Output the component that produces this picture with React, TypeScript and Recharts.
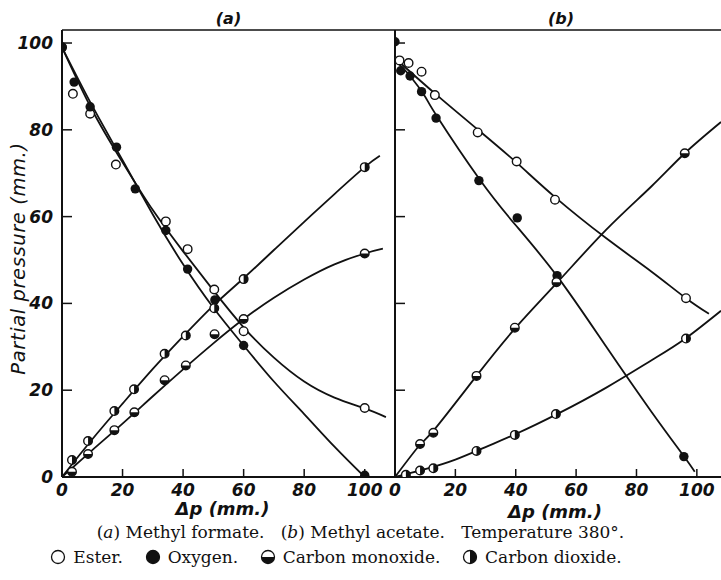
import React from 'react';
import { ComposedChart, Line, Scatter, XAxis, YAxis, ReferenceLine } from 'recharts';

type Pt = { x: number; y: number };

// ---- (a) Methyl formate: measured points ----
const esterA: Pt[] = [
    { x: 0, y: 99 }, { x: 3.6, y: 88.3 }, { x: 9.3, y: 83.7 }, { x: 17.8, y: 72 },
    { x: 34.3, y: 58.9 }, { x: 41.5, y: 52.5 }, { x: 50.3, y: 43.2 }, { x: 60, y: 33.6 },
    { x: 100, y: 15.9 },
];
const oxygenA: Pt[] = [
    { x: 0, y: 99 }, { x: 4, y: 91 }, { x: 9.3, y: 85.3 }, { x: 18, y: 76 },
    { x: 24.2, y: 66.4 }, { x: 34.3, y: 56.8 }, { x: 41.5, y: 47.9 }, { x: 50.5, y: 40.8 },
    { x: 60, y: 30.3 }, { x: 100, y: 0.4 },
];
const coA: Pt[] = [
    { x: 3.3, y: 1.2 }, { x: 8.6, y: 5.3 }, { x: 17.3, y: 10.8 }, { x: 23.9, y: 14.9 },
    { x: 33.9, y: 22.3 }, { x: 40.9, y: 25.7 }, { x: 50.4, y: 32.9 }, { x: 60, y: 36.4 },
    { x: 100, y: 51.5 },
];
const co2A: Pt[] = [
    { x: 3.3, y: 3.9 }, { x: 8.6, y: 8.3 }, { x: 17.3, y: 15.2 }, { x: 23.8, y: 20.2 },
    { x: 33.9, y: 28.4 }, { x: 40.9, y: 32.6 }, { x: 50.3, y: 38.9 }, { x: 60, y: 45.6 },
    { x: 100, y: 71.4 },
];

// ---- (a) drawn curves ----
const esterCurveA: Pt[] = [
    { x: 0, y: 99 }, { x: 10, y: 84.5 }, { x: 20, y: 72.5 }, { x: 30, y: 61.5 },
    { x: 40, y: 52 }, { x: 50, y: 43 }, { x: 60, y: 34.5 }, { x: 70, y: 27.5 },
    { x: 80, y: 22 }, { x: 90, y: 18.3 }, { x: 100, y: 15.8 }, { x: 107, y: 13.8 },
];
const oxygenCurveA: Pt[] = [
    { x: 0, y: 99 }, { x: 10, y: 85.5 }, { x: 20, y: 73 }, { x: 30, y: 60.5 },
    { x: 40, y: 49 }, { x: 50, y: 39 }, { x: 60, y: 30.3 }, { x: 70, y: 22 },
    { x: 80, y: 14.5 }, { x: 90, y: 7 }, { x: 100, y: 0 },
];
const coCurveA: Pt[] = [
    { x: 0, y: 0 }, { x: 10, y: 6.2 }, { x: 20, y: 12.3 }, { x: 30, y: 18.6 },
    { x: 40, y: 24.8 }, { x: 50, y: 30.8 }, { x: 60, y: 36.4 }, { x: 70, y: 41.3 },
    { x: 80, y: 45.5 }, { x: 90, y: 49 }, { x: 100, y: 51.5 }, { x: 106, y: 52.6 },
];
const co2CurveA: Pt[] = [
    { x: 0, y: 0 }, { x: 10, y: 8.7 }, { x: 20, y: 16.9 }, { x: 30, y: 24.9 },
    { x: 40, y: 32.4 }, { x: 50, y: 39.5 }, { x: 60, y: 45.8 }, { x: 70, y: 52.3 },
    { x: 80, y: 58.8 }, { x: 90, y: 65.2 }, { x: 100, y: 71.4 }, { x: 105, y: 74 },
];

// ---- (b) Methyl acetate: measured points ----
const esterB: Pt[] = [
    { x: 1.5, y: 96 }, { x: 4.5, y: 95.4 }, { x: 8.8, y: 93.4 }, { x: 13.2, y: 88 },
    { x: 27.4, y: 79.4 }, { x: 40.3, y: 72.7 }, { x: 53, y: 63.9 }, { x: 96.4, y: 41.2 },
];
const oxygenB: Pt[] = [
    { x: 0, y: 100.3 }, { x: 1.9, y: 93.6 }, { x: 5, y: 92.4 }, { x: 8.8, y: 88.8 },
    { x: 13.6, y: 82.7 }, { x: 27.8, y: 68.3 }, { x: 40.5, y: 59.7 }, { x: 53.7, y: 46.4 },
    { x: 95.7, y: 4.7 },
];
const coB: Pt[] = [
    { x: 8.3, y: 7.6 }, { x: 12.7, y: 10.2 }, { x: 27, y: 23.3 }, { x: 39.7, y: 34.4 },
    { x: 53.5, y: 44.9 }, { x: 96, y: 74.6 },
];
const co2B: Pt[] = [
    { x: 3.6, y: 0.5 }, { x: 8.3, y: 1.5 }, { x: 12.7, y: 2 }, { x: 27, y: 6 },
    { x: 39.7, y: 9.7 }, { x: 53.3, y: 14.5 }, { x: 96.4, y: 31.9 },
];

// ---- (b) drawn curves ----
const esterCurveB: Pt[] = [
    { x: 0, y: 96.5 }, { x: 13, y: 88.5 }, { x: 27, y: 80.3 }, { x: 40, y: 72.6 },
    { x: 53, y: 64.5 }, { x: 70, y: 55 }, { x: 85, y: 47.3 }, { x: 96.4, y: 41.2 },
    { x: 104, y: 37.6 },
];
const oxygenCurveB: Pt[] = [
    { x: 0, y: 96 }, { x: 5, y: 92.4 }, { x: 10, y: 87.6 }, { x: 14, y: 83 },
    { x: 28, y: 68.6 }, { x: 40, y: 58 }, { x: 54, y: 46 }, { x: 70, y: 30 },
    { x: 85, y: 15 }, { x: 96, y: 4.5 }, { x: 99.3, y: 1.2 },
];
const coCurveB: Pt[] = [
    { x: 0, y: 0 }, { x: 8, y: 7.2 }, { x: 13, y: 10.9 }, { x: 27, y: 23.3 },
    { x: 40, y: 34.4 }, { x: 54, y: 45 }, { x: 70, y: 57 }, { x: 85, y: 67 },
    { x: 96, y: 74.6 }, { x: 108, y: 81.8 },
];
const co2CurveB: Pt[] = [
    { x: 0, y: 0 }, { x: 10, y: 1.8 }, { x: 20, y: 4 }, { x: 30, y: 6.9 },
    { x: 40, y: 9.9 }, { x: 54, y: 14.6 }, { x: 70, y: 20.6 }, { x: 85, y: 26.9 },
    { x: 96, y: 31.8 }, { x: 108, y: 38.3 },
];

const xTicks = [0, 20, 40, 60, 80, 100];
const yTicks = [0, 20, 40, 60, 80, 100];
const X_MAX_A = 110;
const X_MAX_B = 108;
const Y_MAX = 103;

const INK = '#111';
const numFont = '"DejaVu Sans", sans-serif';
const serif = '"DejaVu Serif", "Liberation Serif", serif';

// markers
const R = 4.3;
const EsterDot = (p: any) => (
    <circle cx={p.cx} cy={p.cy} r={R} fill="#fff" stroke={INK} strokeWidth={1.4} />
);
const OxygenDot = (p: any) => <circle cx={p.cx} cy={p.cy} r={R + 0.4} fill={INK} />;
const CoDot = (p: any) => (
    <g>
        <circle cx={p.cx} cy={p.cy} r={R} fill="#fff" stroke={INK} strokeWidth={1.4} />
        <path d={`M${p.cx - R},${p.cy} A${R},${R} 0 0 0 ${p.cx + R},${p.cy} Z`} fill={INK} />
    </g>
);
const Co2Dot = (p: any) => (
    <g>
        <circle cx={p.cx} cy={p.cy} r={R} fill="#fff" stroke={INK} strokeWidth={1.4} />
        <path d={`M${p.cx},${p.cy - R} A${R},${R} 0 0 1 ${p.cx},${p.cy + R} Z`} fill={INK} />
    </g>
);

const XTick = (p: any) => {
    const v = p.payload.value;
    return (
        <g>
            {v !== 0 && <line x1={p.x} y1={p.y} x2={p.x} y2={p.y - 8} stroke={INK} strokeWidth={1.5} />}
            <text x={p.x} y={p.y + 19} textAnchor="middle" fontFamily={numFont} fontStyle="italic"
                fontWeight="bold" fontSize={17} fill={INK}>{v}</text>
        </g>
    );
};

const makeYTick = (labels: boolean) => (p: any) => {
    const v = p.payload.value;
    return (
        <g>
            {v !== 0 && <line x1={p.x} y1={p.y} x2={p.x + 10} y2={p.y} stroke={INK} strokeWidth={1.5} />}
            {labels && (
                <text x={p.x - 9} y={p.y + 6} textAnchor="end" fontFamily={numFont} fontStyle="italic"
                    fontWeight="bold" fontSize={17} fill={INK}>{v}</text>
            )}
        </g>
    );
};

const lineProps = {
    type: 'natural' as const,
    dataKey: 'y',
    stroke: INK,
    strokeWidth: 1.8,
    dot: false,
    activeDot: false,
    isAnimationActive: false,
};

const labelStyle = { fontFamily: numFont, fontStyle: 'italic', fontWeight: 'bold', fontSize: 17, fill: INK };

const Panel: React.FC<{
    which: 'a' | 'b';
    series: { curve: Pt[]; pts: Pt[]; shape: any }[];
}> = ({ which, series }) => {
    const isA = which === 'a';
    return (
        <ComposedChart
            width={isA ? 400 : 391}
            height={540}
            margin={{ top: 30, right: isA ? 5 : 0, bottom: 33, left: 0 }}
        >
            <XAxis
                dataKey="x"
                type="number"
                domain={[0, isA ? X_MAX_A : X_MAX_B]}
                ticks={xTicks}
                tick={XTick}
                tickLine={false}
                tickSize={0}
                tickMargin={0}
                height={30}
                axisLine={{ stroke: INK, strokeWidth: 2 }}
                allowDataOverflow
                label={{ value: 'Δp (mm.)', position: 'center', dx: isA ? -6 : -3, dy: isA ? 17 : 20, style: { ...labelStyle, fontSize: 18 } }}
            />
            <YAxis
                dataKey="y"
                type="number"
                domain={[0, Y_MAX]}
                ticks={yTicks}
                tick={makeYTick(isA)}
                tickLine={false}
                tickSize={0}
                tickMargin={0}
                width={isA ? 62 : 65}
                axisLine={{ stroke: INK, strokeWidth: 2 }}
                allowDataOverflow
                label={isA ? {
                    value: 'Partial pressure (mm.)', angle: -90, position: 'center', dx: -13, dy: 5,
                    style: { ...labelStyle, fontWeight: 'normal', fontSize: 19.5, letterSpacing: 0.6 },
                } : undefined}
            />
            <ReferenceLine y={Y_MAX} stroke={INK} strokeWidth={1.6}
                label={{ value: isA ? '(a)' : '(b)', position: 'top', dx: isA ? 0 : 3, offset: 6, style: { ...labelStyle, fontSize: 16 } }} />
            {series.map((s, i) => (
                <Line key={`l${i}`} data={s.curve} {...lineProps} />
            ))}
            {series.map((s, i) => (
                <Scatter key={`s${i}`} data={s.pts} dataKey="y" shape={s.shape} isAnimationActive={false} />
            ))}
        </ComposedChart>
    );
};

const LegendIcon: React.FC<{ kind: 'ester' | 'oxygen' | 'co' | 'co2' }> = ({ kind }) => {
    const r = 6.5;
    const c = 8;
    return (
        <svg width={16} height={16} style={{ verticalAlign: '-2px', marginRight: 7 }}>
            <circle cx={c} cy={c} r={r} fill={kind === 'oxygen' ? INK : '#fff'} stroke={INK} strokeWidth={1.3} />
            {kind === 'co' && <path d={`M${c - r},${c} A${r},${r} 0 0 0 ${c + r},${c} Z`} fill={INK} />}
            {kind === 'co2' && <path d={`M${c},${c - r} A${r},${r} 0 0 1 ${c},${c + r} Z`} fill={INK} />}
        </svg>
    );
};

const App: React.FC = () => {
    const seriesA = [
        { curve: esterCurveA, pts: esterA, shape: EsterDot },
        { curve: oxygenCurveA, pts: oxygenA, shape: OxygenDot },
        { curve: coCurveA, pts: coA, shape: CoDot },
        { curve: co2CurveA, pts: co2A, shape: Co2Dot },
    ];
    const seriesB = [
        { curve: esterCurveB, pts: esterB, shape: EsterDot },
        { curve: oxygenCurveB, pts: oxygenB, shape: OxygenDot },
        { curve: coCurveB, pts: coB, shape: CoDot },
        { curve: co2CurveB, pts: co2B, shape: Co2Dot },
    ];
    return (
        <div style={{ position: 'absolute', left: 0, top: 0, width: 721, height: 580, background: '#fff', overflow: 'hidden' }}>
            <div style={{ position: 'absolute', left: 0, top: 0 }}>
                <Panel which="a" series={seriesA} />
            </div>
            <div style={{ position: 'absolute', left: 330, top: 0 }}>
                <Panel which="b" series={seriesB} />
            </div>
            <div style={{ position: 'absolute', left: 0, top: 522, width: 721, textAlign: 'center', fontFamily: serif, fontSize: 17, color: INK, whiteSpace: 'pre' }}>
                <span>(<i>a</i>) Methyl formate.{'   '}(<i>b</i>) Methyl acetate.{'   '}Temperature 380°.</span>
            </div>
            <div style={{ position: 'absolute', left: 0, top: 547, width: 672, textAlign: 'center', fontFamily: serif, fontSize: 17, color: INK, whiteSpace: 'pre' }}>
                <LegendIcon kind="ester" />Ester.{'    '}
                <LegendIcon kind="oxygen" />Oxygen.{'    '}
                <LegendIcon kind="co" />Carbon monoxide.{'    '}
                <LegendIcon kind="co2" />Carbon dioxide.
            </div>
        </div>
    );
};

export default App;
